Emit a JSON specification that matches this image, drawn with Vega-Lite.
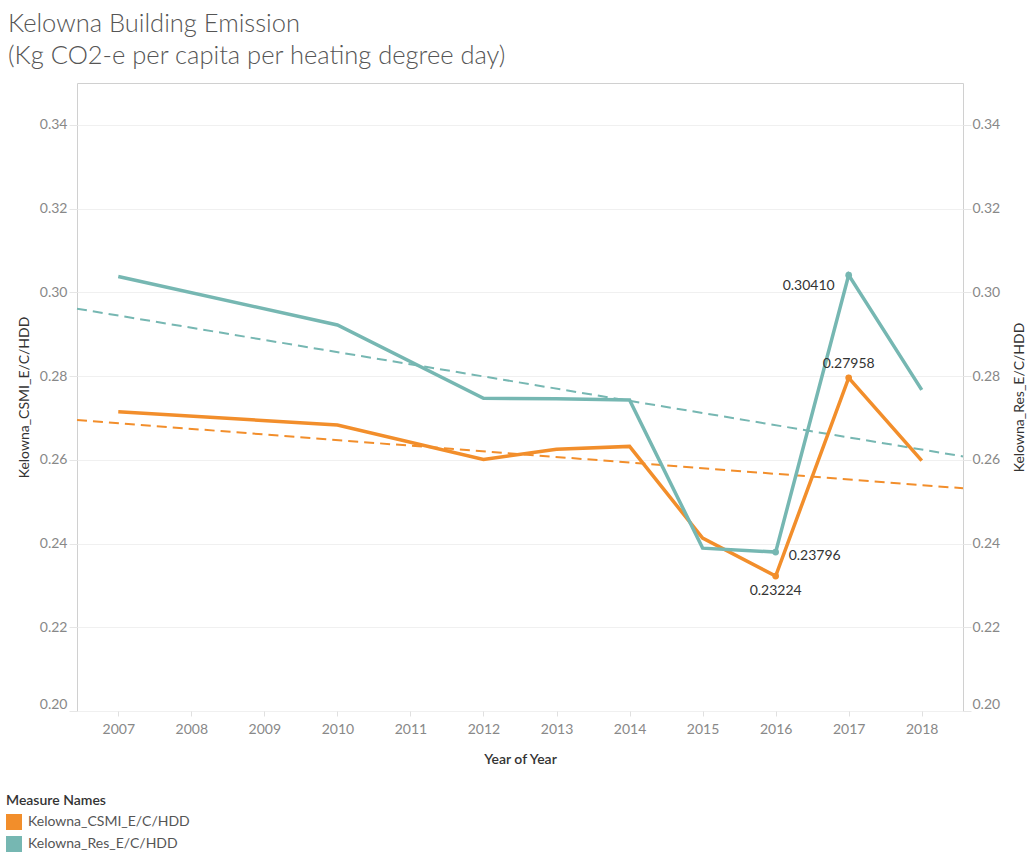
{
  "$schema": "https://vega.github.io/schema/vega-lite/v6.json",
  "width": 886,
  "height": 628,
  "autosize": {"type": "none"},
  "padding": {"left": 77, "top": 83, "right": 65, "bottom": 141},
  "background": "white",
  "config": {
    "font": "Lato",
    "view": {"stroke": "#d0d0d0", "strokeWidth": 1},
    "axis": {"domain": false, "labelFont": "Lato", "titleFont": "Lato"}
  },
  "title": {
    "text": ["Kelowna Building Emission", "(Kg CO2-e per capita per heating degree day)"],
    "anchor": "start",
    "frame": "group",
    "font": "Lato",
    "fontSize": 25.5,
    "fontWeight": 300,
    "color": "#555555",
    "lineHeight": 32,
    "dx": -69,
    "offset": 14
  },
  "datasets": {
    "series": [
      {"measure": "Kelowna_CSMI_E/C/HDD", "year": 2007, "value": 0.2715},
      {"measure": "Kelowna_CSMI_E/C/HDD", "year": 2010, "value": 0.2683},
      {"measure": "Kelowna_CSMI_E/C/HDD", "year": 2012, "value": 0.2601},
      {"measure": "Kelowna_CSMI_E/C/HDD", "year": 2013, "value": 0.2625},
      {"measure": "Kelowna_CSMI_E/C/HDD", "year": 2014, "value": 0.2632},
      {"measure": "Kelowna_CSMI_E/C/HDD", "year": 2015, "value": 0.2413},
      {"measure": "Kelowna_CSMI_E/C/HDD", "year": 2016, "value": 0.23224},
      {"measure": "Kelowna_CSMI_E/C/HDD", "year": 2017, "value": 0.27958},
      {"measure": "Kelowna_CSMI_E/C/HDD", "year": 2018, "value": 0.2598},
      {"measure": "Kelowna_Res_E/C/HDD", "year": 2007, "value": 0.3038},
      {"measure": "Kelowna_Res_E/C/HDD", "year": 2010, "value": 0.2922},
      {"measure": "Kelowna_Res_E/C/HDD", "year": 2012, "value": 0.2747},
      {"measure": "Kelowna_Res_E/C/HDD", "year": 2013, "value": 0.2746},
      {"measure": "Kelowna_Res_E/C/HDD", "year": 2014, "value": 0.2743},
      {"measure": "Kelowna_Res_E/C/HDD", "year": 2015, "value": 0.2389},
      {"measure": "Kelowna_Res_E/C/HDD", "year": 2016, "value": 0.23796},
      {"measure": "Kelowna_Res_E/C/HDD", "year": 2017, "value": 0.30410},
      {"measure": "Kelowna_Res_E/C/HDD", "year": 2018, "value": 0.2767}
    ],
    "trend": [
      {"measure": "Kelowna_CSMI_E/C/HDD", "year": 2006.435, "value": 0.2695},
      {"measure": "Kelowna_CSMI_E/C/HDD", "year": 2018.565, "value": 0.2532},
      {"measure": "Kelowna_Res_E/C/HDD", "year": 2006.435, "value": 0.2961},
      {"measure": "Kelowna_Res_E/C/HDD", "year": 2018.565, "value": 0.2608}
    ]
  },
  "data": {"name": "series"},
  "encoding": {
    "x": {
      "field": "year",
      "type": "quantitative",
      "scale": {"domain": [2006.435, 2018.565], "nice": false, "zero": false},
      "axis": {
        "values": [2007, 2008, 2009, 2010, 2011, 2012, 2013, 2014, 2015, 2016, 2017, 2018],
        "format": "d",
        "grid": false,
        "title": "Year of Year",
        "titleFontSize": 14,
        "titleFontWeight": 600,
        "titleColor": "#333333",
        "titlePadding": 16,
        "labelFontSize": 14,
        "labelColor": "#888888",
        "labelPadding": 6,
        "tickColor": "#e0e0e0",
        "tickSize": 5
      }
    }
  },
  "layer": [
    {
      "encoding": {
        "y": {
          "field": "value",
          "type": "quantitative",
          "scale": {"domain": [0.2, 0.35], "nice": false, "zero": false},
          "axis": {
            "orient": "left",
            "values": [0.2, 0.22, 0.24, 0.26, 0.28, 0.3, 0.32, 0.34],
            "format": ".2f",
            "title": "Kelowna_CSMI_E/C/HDD",
            "titleFontSize": 14,
            "titleFontWeight": "normal",
            "titleColor": "#333333",
            "titlePadding": 8,
            "labelFontSize": 14,
            "labelColor": "#888888",
            "labelPadding": 2,
            "labelFlush": true,
            "tickColor": "#e6e6e6",
            "tickSize": 8,
            "gridColor": "#f0f0f0"
          }
        },
        "color": {
          "field": "measure",
          "type": "nominal",
          "scale": {
            "domain": ["Kelowna_CSMI_E/C/HDD", "Kelowna_Res_E/C/HDD"],
            "range": ["#f28e2b", "#76b7b2"]
          },
          "legend": {
            "orient": "none",
            "legendX": -71,
            "legendY": 711,
            "title": "Measure Names",
            "titleFontSize": 14,
            "titleFontWeight": 600,
            "titleColor": "#333333",
            "titlePadding": 6,
            "symbolType": "square",
            "symbolSize": 256,
            "symbolStrokeWidth": 0,
            "symbolOpacity": 1,
            "labelFontSize": 14,
            "labelColor": "#555555",
            "labelLimit": 400,
            "rowPadding": 6,
            "labelOffset": 6
          }
        }
      },
      "layer": [
        {
          "data": {"name": "trend"},
          "mark": {"type": "line", "strokeWidth": 2, "strokeDash": [10, 6]}
        },
        {
          "mark": {"type": "line", "strokeWidth": 3.5}
        },
        {
          "transform": [{"filter": "datum.year == 2016 || datum.year == 2017"}],
          "mark": {"type": "circle", "size": 45, "opacity": 1}
        },
        {
          "transform": [{"filter": "datum.year == 2017 && datum.measure == 'Kelowna_Res_E/C/HDD'"}],
          "mark": {"type": "text", "align": "right", "baseline": "middle", "dx": -14, "dy": 11, "fontSize": 14, "color": "#333333"},
          "encoding": {"text": {"field": "value", "format": ".5f"}, "color": {"value": "#333333"}}
        },
        {
          "transform": [{"filter": "datum.year == 2017 && datum.measure == 'Kelowna_CSMI_E/C/HDD'"}],
          "mark": {"type": "text", "align": "center", "baseline": "middle", "dy": -14, "fontSize": 14, "color": "#333333"},
          "encoding": {"text": {"field": "value", "format": ".5f"}, "color": {"value": "#333333"}}
        },
        {
          "transform": [{"filter": "datum.year == 2016 && datum.measure == 'Kelowna_Res_E/C/HDD'"}],
          "mark": {"type": "text", "align": "left", "baseline": "middle", "dx": 13, "dy": 4, "fontSize": 14, "color": "#333333"},
          "encoding": {"text": {"field": "value", "format": ".5f"}, "color": {"value": "#333333"}}
        },
        {
          "transform": [{"filter": "datum.year == 2016 && datum.measure == 'Kelowna_CSMI_E/C/HDD'"}],
          "mark": {"type": "text", "align": "center", "baseline": "middle", "dy": 15, "fontSize": 14, "color": "#333333"},
          "encoding": {"text": {"field": "value", "format": ".5f"}, "color": {"value": "#333333"}}
        }
      ]
    },
    {
      "transform": [{"filter": "datum.measure == 'Kelowna_Res_E/C/HDD'"}],
      "mark": {"type": "line", "opacity": 0},
      "encoding": {
        "y": {
          "field": "value",
          "type": "quantitative",
          "scale": {"domain": [0.2, 0.35], "nice": false, "zero": false},
          "axis": {
            "orient": "right",
            "values": [0.2, 0.22, 0.24, 0.26, 0.28, 0.3, 0.32, 0.34],
            "format": ".2f",
            "grid": false,
            "title": "Kelowna_Res_E/C/HDD",
            "titleAngle": 270,
            "titleFontSize": 14,
            "titleFontWeight": "normal",
            "titleColor": "#333333",
            "titlePadding": 27,
            "labelFontSize": 14,
            "labelColor": "#888888",
            "labelPadding": 1,
            "labelFlush": true,
            "tickColor": "#e6e6e6",
            "tickSize": 8
          }
        }
      }
    }
  ],
  "resolve": {"scale": {"y": "independent"}}
}
